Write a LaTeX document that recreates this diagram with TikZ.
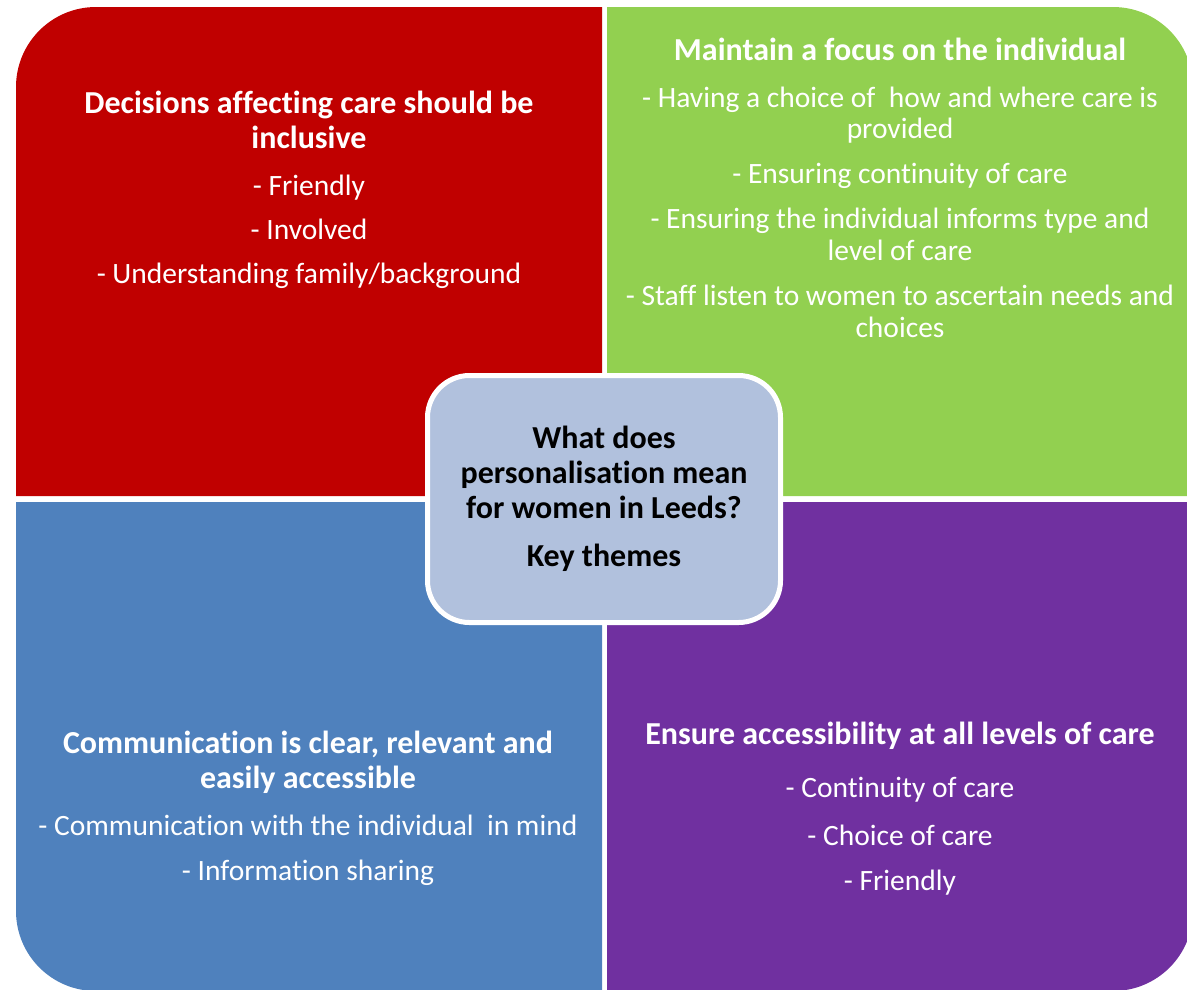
\documentclass[tikz,border=0pt]{standalone}
\usepackage{fontspec}
\setmainfont{Carlito}[RawFeature={-liga;-clig;-dlig;-calt;-rlig}]
\definecolor{redq}{RGB}{192,0,0}
\definecolor{greenq}{RGB}{146,208,80}
\definecolor{blueq}{RGB}{79,129,189}
\definecolor{purpleq}{RGB}{112,48,160}
\definecolor{hubfill}{RGB}{177,193,221}
\begin{document}
\begin{tikzpicture}[x=1pt,y=-1pt,
  head/.style={text=white, font=\fontsize{32}{35}\selectfont\bfseries, anchor=base, inner sep=0pt},
  item/.style={text=white, font=\fontsize{29.5}{30}\selectfont, anchor=base, inner sep=0pt},
  hubtext/.style={text=black, font=\fontsize{32}{35}\selectfont\bfseries, anchor=base, inner sep=0pt},
  hubbox/.style={draw=white, line width=5pt, fill=hubfill, rounded corners=42pt,
    minimum width=353pt, minimum height=247pt, inner sep=0pt}]
\useasboundingbox (0,0) rectangle (1187,989);
\begin{scope}
\clip (0,0) rectangle (1187,989);
% four quadrants, each with its outer corner rounded
\fill[redq] (602,496) -- (602,7) -- (96,7) .. controls (51.8,7) and (16,42.8) .. (16,87) -- (16,496) -- cycle;
\fill[greenq] (607,496) -- (607,7) -- (1113,7) .. controls (1157.2,7) and (1193,42.8) .. (1193,87) -- (1193,496) -- cycle;
\fill[blueq] (602,502) -- (16,502) -- (16,911) .. controls (16,955.2) and (51.8,991) .. (96,991) -- (602,991) -- cycle;
\fill[purpleq] (607,502) -- (1193,502) -- (1193,911) .. controls (1193,955.2) and (1157.2,991) .. (1113,991) -- (607,991) -- cycle;
\end{scope}

% top left
\node[head] (r1) at (309,113) {Decisions affecting care should be};
\node[head] (r2) at (309,148) {inclusive};
\node[item] (r3) at (309,195) {- Friendly};
\node[item] (r4) at (309,239) {- Involved};
\node[item] (r5) at (309,283) {- Understanding family/background};

% top right
\node[head] (g1) at (900,60) {Maintain a focus on the individual};
\node[item] (g2) at (900,107) {- Having a choice of\ \ how and where care is};
\node[item] (g3) at (900,138) {provided};
\node[item] (g4) at (900,183) {- Ensuring continuity of care};
\node[item] (g5) at (900,228) {- Ensuring the individual informs type and};
\node[item] (g6) at (900,260) {level of care};
\node[item] (g7) at (900,305) {- Staff listen to women to ascertain needs and};
\node[item] (g8) at (900,337) {choices};

% bottom left
\node[head] (b1) at (308,753) {Communication is clear, relevant and};
\node[head] (b2) at (308,788) {easily accessible};
\node[item] (b3) at (308,835) {- Communication with the individual\ \ in mind};
\node[item] (b4) at (308,880) {- Information sharing};

% bottom right
\node[head] (p1) at (900,744) {Ensure accessibility at all levels of care};
\node[item] (p2) at (900,797) {- Continuity of care};
\node[item] (p3) at (900,845) {- Choice of care};
\node[item] (p4) at (900,890) {- Friendly};

% central box
\node[hubbox] (hub) at (604,499) {};
\node[hubtext] (h1) at (604,448) {What does};
\node[hubtext] (h2) at (604,483) {personalisation mean};
\node[hubtext] (h3) at (604,518) {for women in Leeds?};
\node[hubtext] (h4) at (604,566) {Key themes};
\end{tikzpicture}
\end{document}
